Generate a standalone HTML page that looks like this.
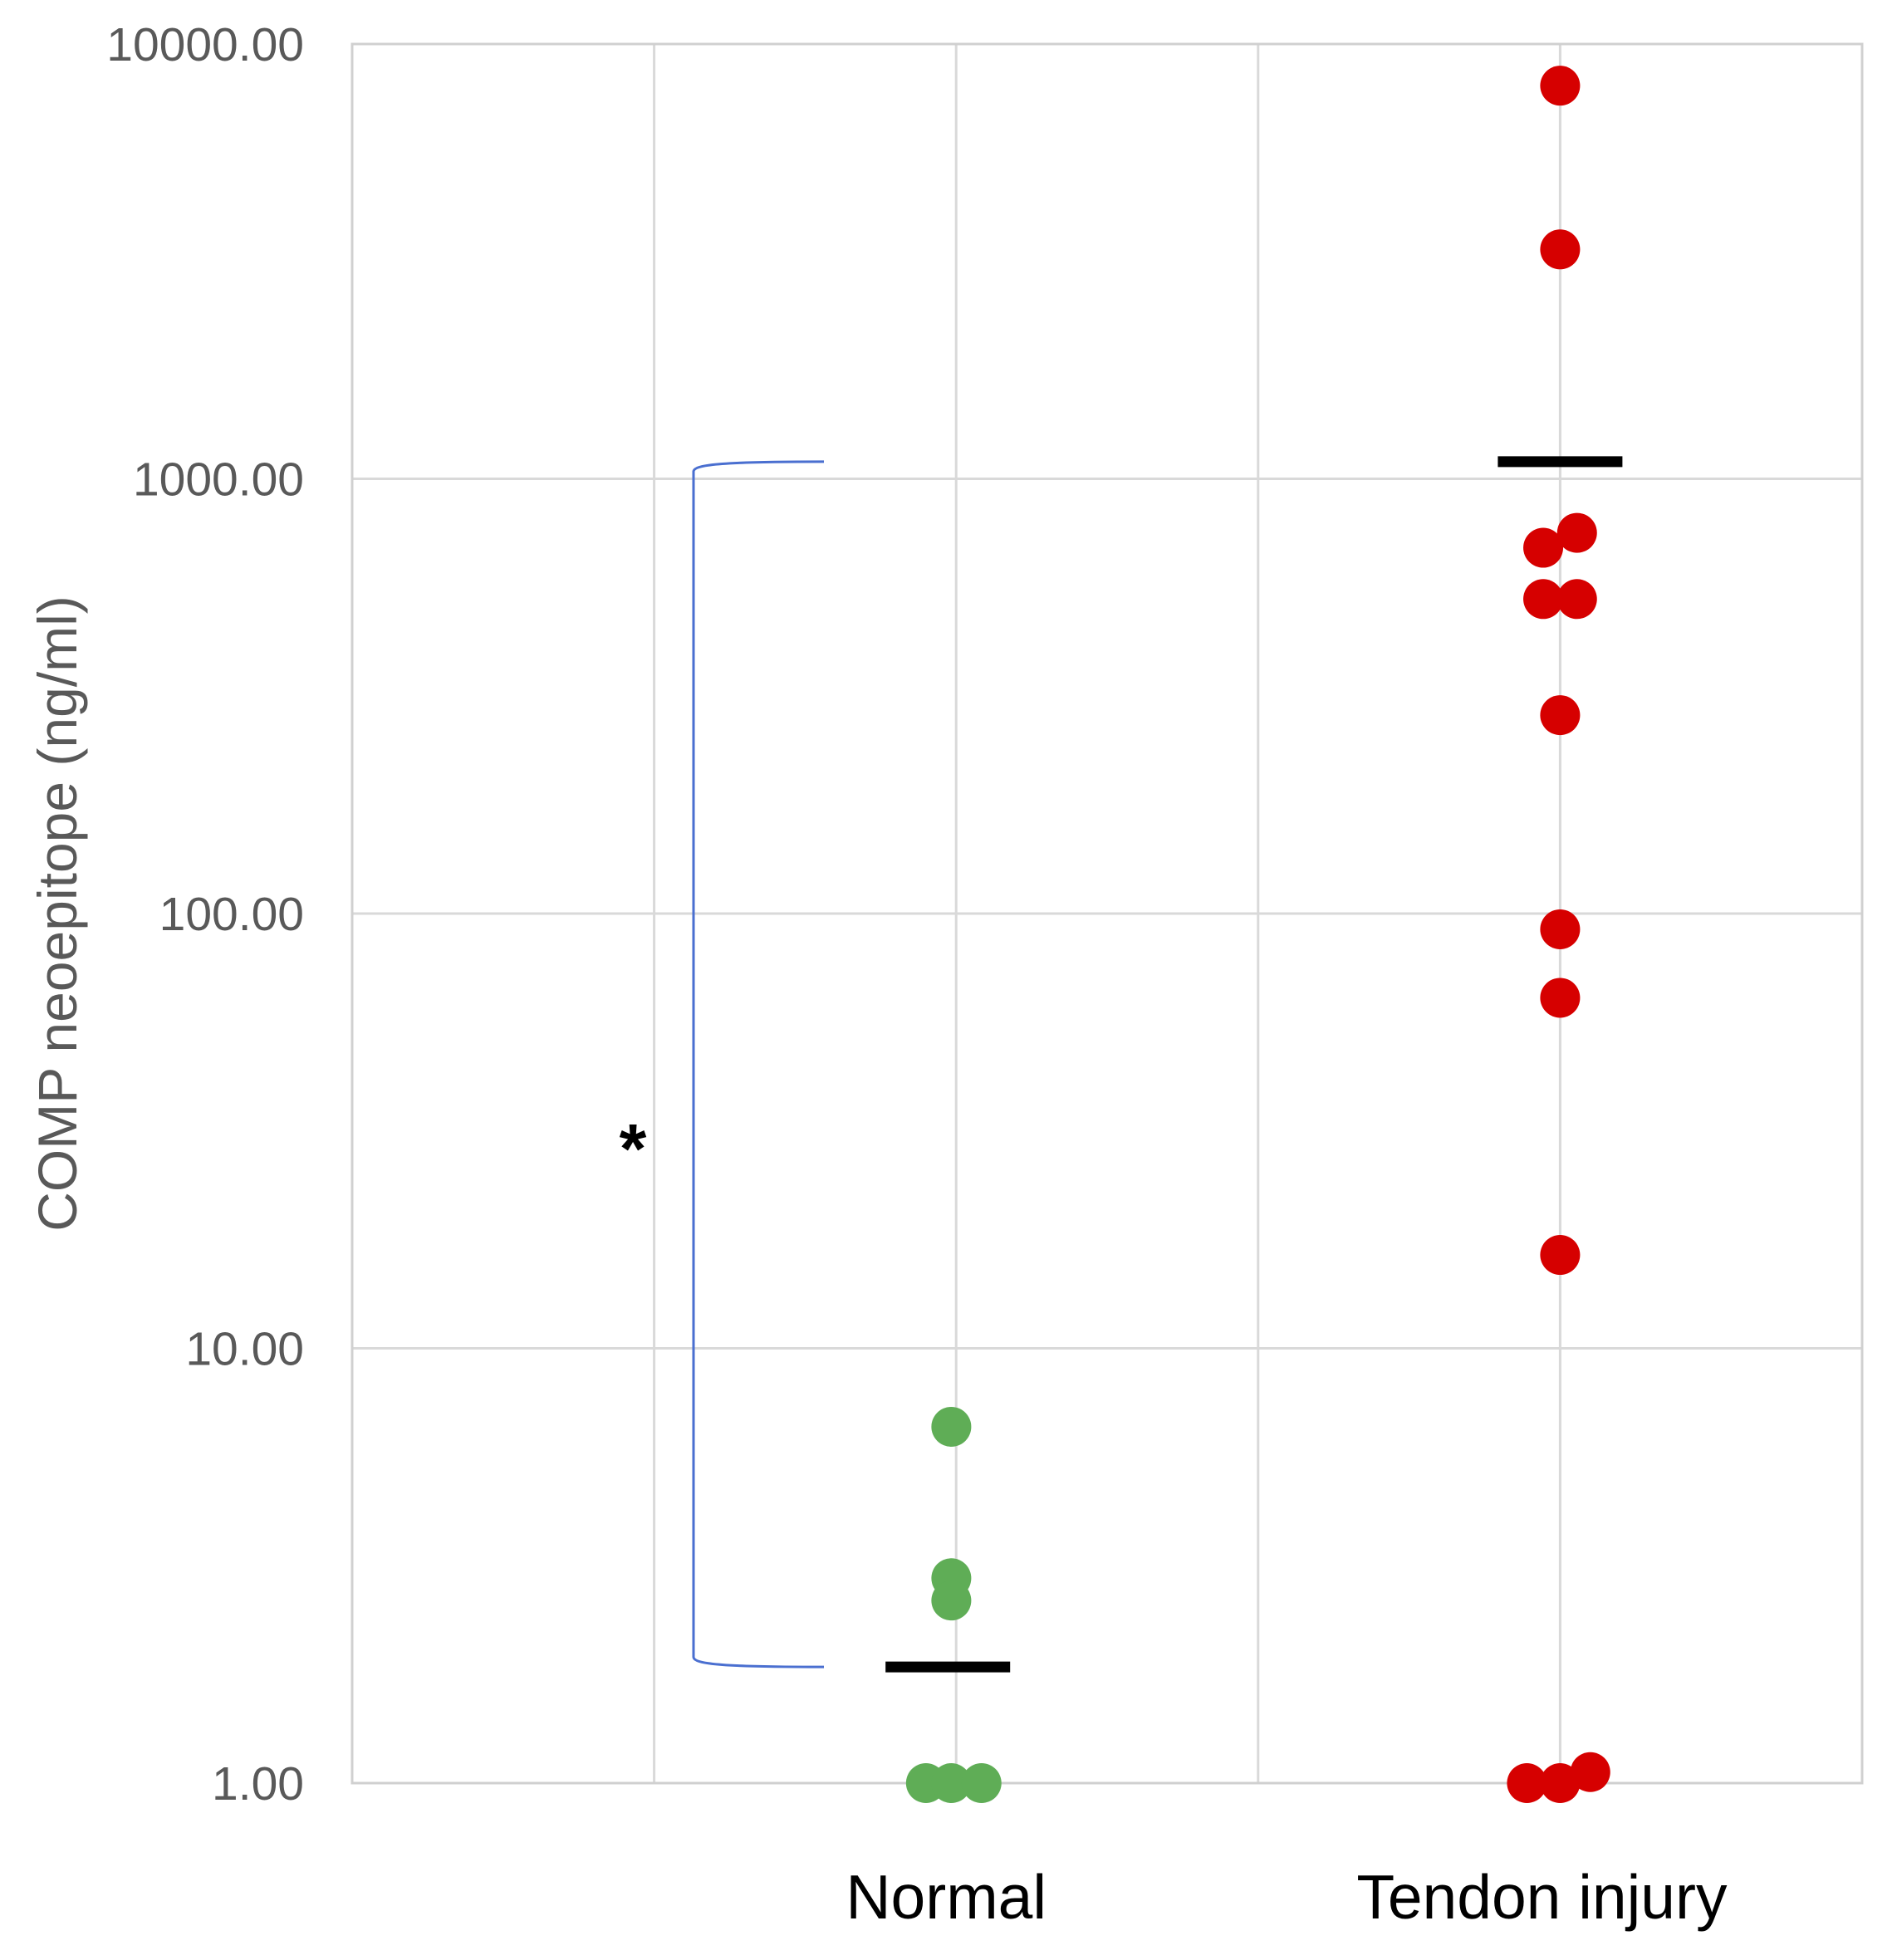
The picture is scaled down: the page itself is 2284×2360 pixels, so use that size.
<!DOCTYPE html>
<html><head><meta charset="utf-8">
<style>
html,body{margin:0;padding:0;background:#fff;}
svg{display:block;}
</style></head>
<body>
<svg id="chart" width="2284" height="2360" xmlns="http://www.w3.org/2000/svg"></svg>
<script>
const categories = ["Normal", "Tendon injury"];
const normalValues = [6.6, 2.96, 2.63, 1, 1, 1];
const normalOffsets = [-0.008, -0.008, -0.008, -0.05, -0.008, 0.042];
const tendonValues = [8020, 3370, 751, 694, 529, 529, 286, 92, 64, 16.4, 1, 1, 1.06];
const tendonOffsets = [0, 0, 0.028, -0.028, -0.028, 0.028, 0, 0, 0, 0, -0.055, 0, 0.05];
const means = [1.85, 1095];
const yTicks = [1, 10, 100, 1000, 10000];
const yTickLabels = ["1.00", "10.00", "100.00", "1000.00", "10000.00"];
const xGrid = [0.5, 1, 1.5, 2];

const L = 424, R = 2242, T = 53, B = 2147;
const xMax = 2.5, logMin = 0, logMax = 4;
const xs = v => L + (v / xMax) * (R - L);
const ys = v => B - (Math.log10(v) - logMin) / (logMax - logMin) * (B - T);
const NS = "http://www.w3.org/2000/svg";
const svg = document.getElementById("chart");
function mk(tag, attrs, parent) {
  const e = document.createElementNS(NS, tag);
  for (const k in attrs) e.setAttribute(k, attrs[k]);
  (parent || svg).appendChild(e);
  return e;
}
yTicks.forEach((t, i) => {
  const g = mk("line", {x1: L, x2: R, y1: ys(t), y2: ys(t), stroke: "#d9d9d9", "stroke-width": 3});
  
  
  const tx = mk("text", {x: 366, y: ys(t) + 20, "text-anchor": "end", "font-family": "Liberation Sans, sans-serif", "font-size": 57, fill: "#595959"});
  tx.textContent = yTickLabels[i];
  
  
});
xGrid.forEach(v => {
  const g = mk("line", {x1: xs(v), x2: xs(v), y1: T, y2: B, stroke: "#d9d9d9", "stroke-width": 3});
  
  
});
const fr = mk("rect", {x: L, y: T, width: R - L, height: B - T, fill: "none", stroke: "#d0d0d0", "stroke-width": 3});


const bx = 835, br = 992, yTop = ys(means[1]), yBot = ys(means[0]);
const brk = mk("path", {d: `M${br},${yTop} C${bx+40},${yTop} ${bx},${yTop+3} ${bx},${yTop+12} L${bx},${yBot-12} C${bx},${yBot-3} ${bx+40},${yBot} ${br},${yBot}`, fill: "none", stroke: "#4a6fd0", "stroke-width": 3});


const st = mk("text", {x: 762, y: 1412, "text-anchor": "middle", "font-family": "Liberation Sans, sans-serif", "font-size": 84, "font-weight": "bold", fill: "#000"});
st.textContent = "*";


function drawSeries(vals, offs, cx, color, name) {
  vals.forEach((v, i) => {
    const c = mk("circle", {cx: xs(cx + offs[i]), cy: ys(v), r: 24, fill: color});
    
    
  });
}
drawSeries(normalValues, normalOffsets, 1, "#5fad56", "normal-point");
drawSeries(tendonValues, tendonOffsets, 2, "#d60000", "tendon-injury-point");
means.forEach((m, i) => {
  const cx = xs(i + 1) - (i === 0 ? 10 : 0);
  const ml = mk("rect", {x: cx - 75, y: ys(m) - 6.5, width: 150, height: 13, fill: "#000"});
  
  
});
categories.forEach((c, i) => {
  const t = mk("text", {x: xs(i + 1) - 12 - i * 10, y: 2310, "text-anchor": "middle", "font-family": "Liberation Sans, sans-serif", "font-size": 75, fill: "#000"});
  t.textContent = c;
  
  
});
const yt = mk("text", {x: 0, y: 0, transform: "translate(92,1100) rotate(-90)", "text-anchor": "middle", "font-family": "Liberation Sans, sans-serif", "font-size": 66, fill: "#595959"});
yt.textContent = "COMP neoepitope (ng/ml)";


</script>
</body></html>
